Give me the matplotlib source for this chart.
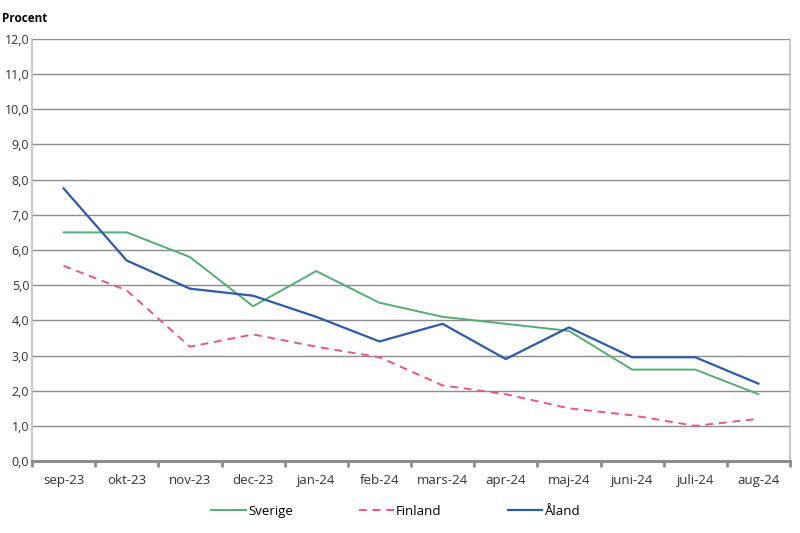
import matplotlib.pyplot as plt
from matplotlib.ticker import FixedLocator, FuncFormatter, MultipleLocator

plt.rcParams['font.family'] = ['Open Sans', 'DejaVu Sans']

months = ['sep-23', 'okt-23', 'nov-23', 'dec-23', 'jan-24', 'feb-24', 'mars-24',
          'apr-24', 'maj-24', 'juni-24', 'juli-24', 'aug-24']
sverige = [6.5, 6.5, 5.8, 4.4, 5.4, 4.5, 4.1, 3.9, 3.7, 2.6, 2.6, 1.9]
finland = [5.55, 4.85, 3.25, 3.6, 3.25, 2.95, 2.15, 1.9, 1.5, 1.3, 1.0, 1.2]
aland = [7.75, 5.7, 4.9, 4.7, 4.1, 3.4, 3.9, 2.9, 3.8, 2.95, 2.95, 2.2]

fig = plt.figure(figsize=(8, 5.33), dpi=100)
ax = fig.add_axes([0.04, 0.135, 0.9475, 0.792])

x = range(len(months))
ax.plot(x, sverige, color='#55ad74', lw=1.4, label='Sverige')
ax.plot(x, finland, color='#e9577f', lw=1.4, ls=(0, (4, 3)), label='Finland')
ax.plot(x, aland, color='#2c5ca6', lw=1.6, label='Åland')

ax.set_xlim(-0.5, len(months) - 0.5)
ax.set_ylim(0, 12)
ax.yaxis.set_major_locator(MultipleLocator(1))
ax.yaxis.set_major_formatter(FuncFormatter(lambda v, p: f'{v:.1f}'.replace('.', ',')))
ax.grid(axis='y', color='#8c8c8c', lw=1.0)
ax.set_axisbelow(True)

ax.set_xticks(list(x))
ax.set_xticklabels(months)
ax.xaxis.set_minor_locator(FixedLocator([i - 0.5 for i in range(len(months) + 1)]))
ax.tick_params(axis='x', which='major', length=0, pad=9, labelsize=9.5, colors='#333333')
ax.tick_params(axis='x', which='minor', length=4, width=2, color='#8c8c8c')
ax.tick_params(axis='y', length=0, pad=2, labelsize=9, colors='#333333')

for s in ['left', 'right']:
    ax.spines[s].set_color('#bfbfbf')
    ax.spines[s].set_linewidth(1.2)
ax.spines['top'].set_visible(False)
ax.spines['bottom'].set_color('#8c8c8c')
ax.spines['bottom'].set_linewidth(2.2)

fig.text(0.002, 0.965, 'Procent', fontsize=8.5, fontweight='bold', ha='left', va='center')

ax.legend(loc='upper center', bbox_to_anchor=(0.48, -0.075), ncol=3, frameon=False,
          fontsize=9.5, handlelength=2.6, handletextpad=0.2, columnspacing=5.0)

plt.savefig('out.png', dpi=100)
